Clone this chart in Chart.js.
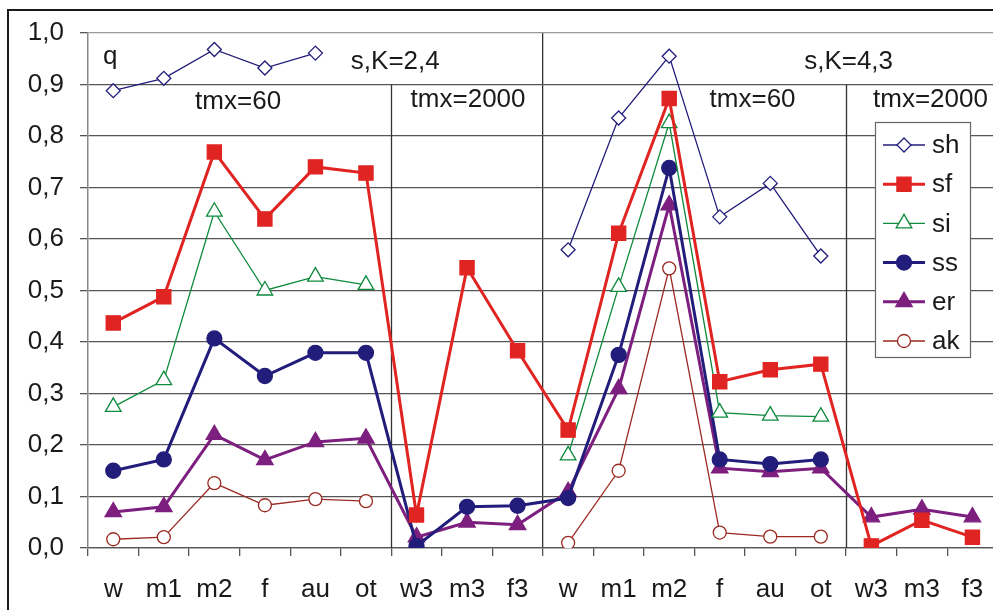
<!DOCTYPE html>
<html>
<head>
<meta charset="utf-8">
<script src="https://cdn.jsdelivr.net/npm/chart.js@4.4.1/dist/chart.umd.min.js"></script>
<style>
  html, body { margin: 0; padding: 0; background: #fff; overflow: hidden; }
  #frame { position: absolute; left: 7px; top: 9px; width: 1200px; height: 800px; border: 2px solid #1a1a1a; }
  #c { position: absolute; left: 0; top: 0; }
</style>
</head>
<body>
<div id="frame"></div>
<canvas id="c" width="1009" height="610"></canvas>
<script>
const categories = ["w", "m1", "m2", "f", "au", "ot", "w3", "m3", "f3", "w", "m1", "m2", "f", "au", "ot", "w3", "m3", "f3"];
const yTicks = [0, 0.1, 0.2, 0.3, 0.4, 0.5, 0.6, 0.7, 0.8, 0.9, 1.0];

const sh = [0.888, 0.912, 0.968, 0.932, 0.961, null, null, null, null, 0.579, 0.835, 0.955, 0.643, 0.708, 0.567, null, null, null];
const sf = [0.437, 0.488, 0.769, 0.639, 0.740, 0.728, 0.064, 0.544, 0.383, 0.229, 0.611, 0.873, 0.323, 0.346, 0.357, 0.004, 0.054, 0.021];
const si = [0.274, 0.326, 0.653, 0.500, 0.527, 0.511, null, null, null, 0.180, 0.507, 0.825, 0.263, 0.257, 0.255, null, null, null];
const ss = [0.150, 0.172, 0.407, 0.334, 0.379, 0.379, 0.004, 0.080, 0.082, 0.097, 0.375, 0.738, 0.172, 0.163, 0.172, null, null, null];
const er = [0.070, 0.080, 0.220, 0.171, 0.206, 0.213, 0.021, 0.050, 0.045, 0.109, 0.309, 0.666, 0.155, 0.148, 0.155, 0.060, 0.075, 0.060];
const ak = [0.017, 0.021, 0.126, 0.083, 0.095, 0.091, null, null, null, 0.010, 0.150, 0.543, 0.030, 0.022, 0.022, null, null, null];

// text labels placed in data units (category index, value)
const notes = [
  { text: "q", x: -0.06, y: 0.953 },
  { text: "s,K=2,4", x: 5.58, y: 0.944 },
  { text: "tmx=60", x: 2.47, y: 0.866 },
  { text: "tmx=2000", x: 7.02, y: 0.870 },
  { text: "s,K=4,3", x: 14.55, y: 0.944 },
  { text: "tmx=60", x: 12.65, y: 0.870 },
  { text: "tmx=2000", x: 16.17, y: 0.870 },
];

const FONT = "'Liberation Sans', Arial, sans-serif";
const NAVY = "#221d7a";
const RED = "#e02422";
const GREEN = "#0d8a3c";
const PURPLE = "#7d1f7e";
const BROWN = "#9a2a22";

function series(label, data, color, style, radius, width, filled) {
  return {
    label: label,
    data: data,
    borderColor: color,
    backgroundColor: color,
    borderWidth: width,
    pointStyle: style,
    pointRadius: radius,
    pointHoverRadius: radius,
    pointBorderWidth: 1.3,
    pointBorderColor: color,
    pointBackgroundColor: filled ? color : "#fff",
    spanGaps: false,
    tension: 0,
  };
}

const datasets = [
  series("sh", sh, NAVY, "rectRot", 7, 1.3, false),
  series("sf", sf, RED, "rect", 10, 3, true),
  series("si", si, GREEN, "triangle", 9, 1.3, false),
  series("ss", ss, NAVY, "circle", 7.5, 3, true),
  series("er", er, PURPLE, "triangle", 9.5, 3, true),
  series("ak", ak, BROWN, "circle", 6.5, 1.3, false),
];

const extras = {
  id: "extras",
  beforeDatasetsDraw(chart) {
    const ctx = chart.ctx;
    const xs = chart.scales.x;
    const ys = chart.scales.y;
    const step = xs.getPixelForValue(1) - xs.getPixelForValue(0);
    ctx.save();
    ctx.strokeStyle = "#333";
    ctx.lineWidth = 1.3;
    [6, 15].forEach((i) => {
      const px = Math.round(xs.getPixelForValue(i) - step / 2) + 0.5;
      ctx.beginPath();
      ctx.moveTo(px, ys.getPixelForValue(0.9));
      ctx.lineTo(px, ys.getPixelForValue(0));
      ctx.stroke();
    });
    ctx.restore();
  },
  afterDraw(chart) {
    const ctx = chart.ctx;
    const xs = chart.scales.x;
    const ys = chart.scales.y;
    const step = xs.getPixelForValue(1) - xs.getPixelForValue(0);
    ctx.save();
    ctx.fillStyle = "#1a1a1a";
    ctx.font = "26px " + FONT;
    ctx.textAlign = "center";
    ctx.textBaseline = "middle";
    notes.forEach((n) => {
      const px = xs.getPixelForValue(0) + n.x * step;
      ctx.fillText(n.text, px, ys.getPixelForValue(n.y));
    });

    // legend box
    const bx = 875, by = 122, bw = 95, bh = 235;
    ctx.fillStyle = "#fff";
    ctx.fillRect(bx, by, bw, bh);
    ctx.strokeStyle = "#666";
    ctx.lineWidth = 1.2;
    ctx.strokeRect(bx + 0.5, by + 0.5, bw, bh);
    ctx.textAlign = "left";
    ctx.font = "26px " + FONT;
    chart.data.datasets.forEach((ds, i) => {
      const ry = by + 23 + i * 39.2;
      ctx.strokeStyle = ds.borderColor;
      ctx.lineWidth = ds.borderWidth;
      ctx.beginPath();
      ctx.moveTo(bx + 8, ry);
      ctx.lineTo(bx + 50, ry);
      ctx.stroke();
      ctx.fillStyle = ds.pointBackgroundColor;
      ctx.strokeStyle = ds.pointBorderColor;
      ctx.lineWidth = ds.pointBorderWidth;
      Chart.helpers.drawPoint(ctx, { pointStyle: ds.pointStyle, radius: ds.pointRadius, borderWidth: ds.pointBorderWidth, rotation: 0 }, bx + 29, ry);
      ctx.fillStyle = "#1a1a1a";
      ctx.fillText(ds.label, bx + 57, ry + 1);
    });
    ctx.restore();
  },
};

new Chart(document.getElementById("c"), {
  type: "line",
  data: { labels: categories, datasets: datasets },
  plugins: [extras],
  options: {
    responsive: false,
    animation: false,
    layout: { padding: { top: 33, right: 3, left: 0, bottom: 0 } },
    plugins: { legend: { display: false }, tooltip: { enabled: false } },
    scales: {
      x: {
        type: "category",
        offset: true,
        grid: {
          offset: true,
          color: (c) => (c.index === 9 ? "#333" : "rgba(0,0,0,0)"),
          lineWidth: 1.3,
          tickColor: "#555",
          tickLength: 8,
          drawOnChartArea: true,
        },
        border: { color: "#555", width: 1.3 },
        ticks: { color: "#1a1a1a", font: { family: FONT, size: 26 }, padding: 18, maxRotation: 0, autoSkip: false },
        afterFit: (s) => { s.height = 62; s.paddingLeft = 0; s.paddingRight = 0; },
      },
      y: {
        min: 0,
        max: 1,
        afterBuildTicks: (s) => { s.ticks = yTicks.map((v) => ({ value: v })); },
        grid: {
          color: (c) => (c.tick && c.tick.value === 1 ? "#9a9a9a" : "#555"),
          lineWidth: 1.3,
          tickColor: "#555",
          tickLength: 8,
        },
        border: { color: "#888", width: 1.5 },
        ticks: {
          color: "#1a1a1a",
          font: { family: FONT, size: 26 },
          padding: 16,
          callback: (v) => Number(v).toFixed(1).replace(".", ","),
        },
        afterFit: (s) => { s.width = 88; s.paddingTop = 0; s.paddingBottom = 0; },
      },
    },
  },
});
</script>
</body>
</html>
